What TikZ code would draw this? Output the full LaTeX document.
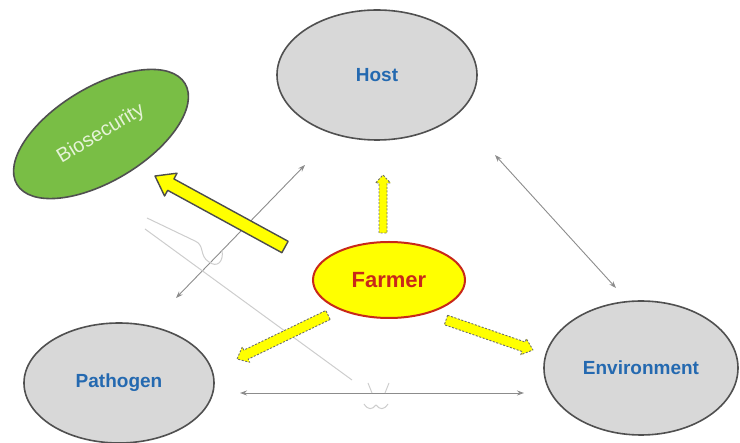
\documentclass[tikz,border=0pt]{standalone}
\usepackage{fontspec}
\setmainfont{Liberation Sans}
\usetikzlibrary{shapes.geometric,arrows.meta,calc}

\definecolor{factorfill}{HTML}{D8D8D8}
\definecolor{factorline}{HTML}{505050}
\definecolor{factortext}{HTML}{2469B0}
\definecolor{biofill}{HTML}{79BE45}
\definecolor{biotext}{HTML}{E6F3D8}
\definecolor{farmerred}{HTML}{C8281A}
\definecolor{linkgray}{HTML}{8C8C8C}
\definecolor{ghostgray}{HTML}{CDCDCD}
\definecolor{arrowyellow}{HTML}{FFFF00}

% block arrow from #2 to #3: shaft half-width #4, head half-width #5, head length #6
\newcommand{\blockarrow}[6]{%
  \coordinate (ba-base) at ($(#3)!#6!(#2)$);
  \draw[#1]
    ($(#2)!#4!90:(#3)$) --
    ($(ba-base)!#4!-90:(#2)$) --
    ($(ba-base)!#5!-90:(#2)$) --
    (#3) --
    ($(ba-base)!#5!90:(#2)$) --
    ($(ba-base)!#4!90:(#2)$) --
    ($(#2)!#4!-90:(#3)$) -- cycle;
}

\begin{document}
\begin{tikzpicture}[x=1pt,y=-1pt,
  factor/.style={ellipse, draw=factorline, line width=1.6pt, fill=factorfill,
    inner sep=0pt, text=factortext, font=\bfseries\fontsize{19}{19}\selectfont},
  link/.style={draw=linkgray, line width=0.9pt,
    {Stealth[length=7pt,width=5pt]}-{Stealth[length=7pt,width=5pt]}},
  ghost/.style={draw=ghostgray, line width=1pt},
  dashedarrow/.style={fill=arrowyellow, draw=gray!85!black, line width=0.9pt,
    dash pattern=on 2pt off 1.6pt, line join=round},
  bigarrow/.style={fill=arrowyellow, draw=black!70, line width=1.4pt, line join=round}
]
\useasboundingbox (0,0) rectangle (740,443);

% end points of the thin two-way links
\coordinate (hp-a) at (305,165);
\coordinate (hp-b) at (176,298);
\coordinate (he-a) at (495,155);
\coordinate (he-b) at (616,288);
\coordinate (pe-a) at (240,393);
\coordinate (pe-b) at (524,393);

\draw[link] (hp-a) -- (hp-b);
\draw[link] (he-a) -- (he-b);
\draw[link] (pe-a) -- (pe-b);

% faint leftover strokes
\draw[ghost] (147,218) -- (195,241) .. controls (205,245) and (199,256) .. (209,262)
  .. controls (217,268) and (224,262) .. (222,250);
\draw[ghost] (145,229) -- (352,380);
\draw[ghost] (368,383) -- (372,393);
\draw[ghost] (389,383) -- (385,393);
\draw[ghost] (364,404) .. controls (368,410) and (372,410) .. (376,405)
  .. controls (380,410) and (384,410) .. (388,404);

% the three factors
\node[factor, minimum width=200pt, minimum height=130pt] (host) at (377,75) {Host};
\node[factor, minimum width=190pt, minimum height=120pt] (pathogen) at (119,383) {Pathogen};
\node[factor, minimum width=194pt, minimum height=134pt] (environment) at (641,368) {Environment};

% biosecurity
\node[ellipse, rotate=31, draw=factorline, line width=1.6pt, fill=biofill,
  minimum width=196pt, minimum height=94pt, inner sep=0pt, text=biotext,
  font=\fontsize{20}{20}\selectfont] (bio) at (101,134) {Biosecurity};

% farmer
\node[ellipse, draw=farmerred, line width=2pt, fill=arrowyellow,
  minimum width=152pt, minimum height=76pt, inner sep=0pt, text=farmerred,
  font=\bfseries\fontsize{22}{22}\selectfont] (farmer) at (389,280) {Farmer};

% arrows from the farmer
\coordinate (fu-a) at (383,233);
\coordinate (fu-b) at (383,175);
\coordinate (fp-a) at (328,315);
\coordinate (fp-b) at (237,359);
\coordinate (fe-a) at (446,320);
\coordinate (fe-b) at (533,350);
\coordinate (fb-a) at (285,247);
\coordinate (fb-b) at (155,176);

\blockarrow{dashedarrow}{fu-a}{fu-b}{4pt}{7.5pt}{8pt}
\blockarrow{dashedarrow}{fp-a}{fp-b}{5pt}{8.5pt}{10pt}
\blockarrow{dashedarrow}{fe-a}{fe-b}{5pt}{8.5pt}{10pt}
\blockarrow{bigarrow}{fb-a}{fb-b}{6.5pt}{13pt}{18pt}

\end{tikzpicture}
\end{document}
